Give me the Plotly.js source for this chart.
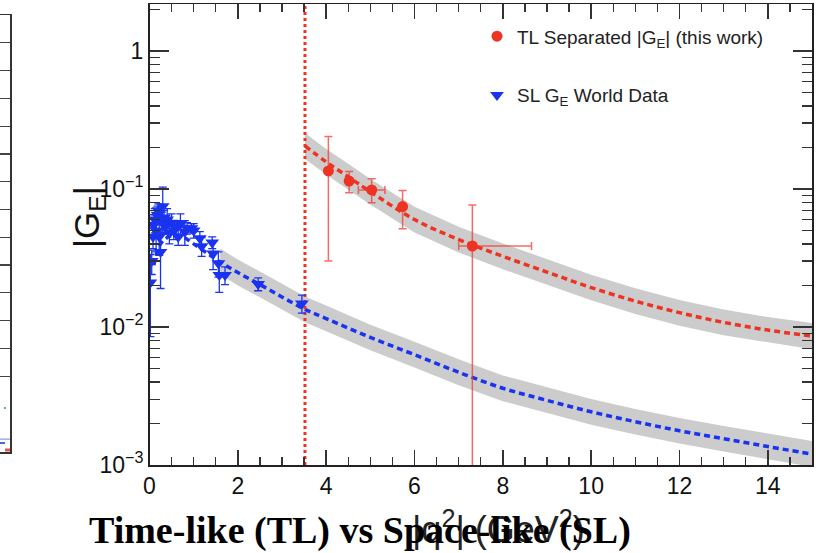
<!DOCTYPE html>
<html><head><meta charset="utf-8">
<script src="https://cdn.plot.ly/plotly-3.0.1.min.js"></script>
<style>html,body{margin:0;padding:0;background:#fff;} #chart{width:826px;height:553px;}</style>
</head><body><div id="chart"></div>
<script>
// ---- Time-like separated |G_E| (this work) ----
const tlQ2 = [4.05, 4.52, 5.03, 5.73, 7.31];
const tlGE = [0.135, 0.114, 0.0984, 0.0745, 0.0386];
const tlErrPlus = [0.105, 0.020, 0.020, 0.023, 0.038];
const tlErrMinus = [0.105, 0.020, 0.019, 0.023, 0.0377];
const tlQ2ErrPlus = [0, 0, 0.30, 0, 1.34];
const tlQ2ErrMinus = [0, 0, 0.30, 0, 0.31];

// ---- Space-like G_E world data ----
const slQ2 = [0.02, 0.05, 0.08, 0.10, 0.12, 0.15, 0.18, 0.20, 0.22, 0.25, 0.28, 0.30, 0.33, 0.36, 0.40, 0.45, 0.50, 0.55, 0.60, 0.65, 0.70, 0.80, 0.85, 0.95, 1.00, 1.14, 1.18, 1.42, 1.44, 1.56, 1.58, 1.71, 2.46, 3.45];
const slGE = [0.021, 0.030, 0.045, 0.055, 0.060, 0.050, 0.065, 0.070, 0.045, 0.035, 0.058, 0.075, 0.062, 0.054, 0.060, 0.048, 0.057, 0.050, 0.053, 0.045, 0.056, 0.049, 0.052, 0.052, 0.050, 0.044, 0.0385, 0.041, 0.034, 0.029, 0.0238, 0.0238, 0.0205, 0.0148];
const slErr = [0.0125, 0.006, 0.008, 0.010, 0.012, 0.015, 0.010, 0.008, 0.012, 0.016, 0.010, 0.028, 0.008, 0.006, 0.012, 0.008, 0.009, 0.007, 0.006, 0.006, 0.010, 0.010, 0.005, 0.004, 0.006, 0.005, 0.006, 0.004, 0.008, 0.006, 0.006, 0.0035, 0.0022, 0.0022];

// ---- fits ----
const tlFitQ2 = [3.52, 4, 4.5, 5, 6, 7, 8, 9, 10, 11, 12, 13, 14, 15];
const tlFit = [0.205, 0.157, 0.1225, 0.0955, 0.0600, 0.0430, 0.0325, 0.0250, 0.0193, 0.0154, 0.0127, 0.0108, 0.0095, 0.0086];
const tlBandHigh = [0.254, 0.195, 0.152, 0.118, 0.0744, 0.0533, 0.0403, 0.0310, 0.0239, 0.0191, 0.0157, 0.0134, 0.0118, 0.0107];
const tlBandLow = [0.165, 0.127, 0.0988, 0.077, 0.0484, 0.0347, 0.0262, 0.0202, 0.0156, 0.0124, 0.0102, 0.0087, 0.0077, 0.0069];

const slFitQ2 = [0.1, 0.25, 0.5, 0.75, 1, 1.5, 2, 2.5, 3, 3.52, 4, 5, 6, 7, 8, 9, 10, 11, 12, 13, 14, 15];
const slFit = [0.028, 0.040, 0.046, 0.045, 0.040, 0.031, 0.0248, 0.0203, 0.0165, 0.0134, 0.0115, 0.0084, 0.0063, 0.0047, 0.0036, 0.00294, 0.00243, 0.00206, 0.00177, 0.00155, 0.00136, 0.0012];
const slBandQ2 = [1.6, 2, 2.5, 3, 3.52, 4, 5, 6, 7, 8, 9, 10, 11, 12, 13, 14, 15];
const slBandHigh = [0.0370, 0.0308, 0.0252, 0.0205, 0.0166, 0.0143, 0.0104, 0.0078, 0.00583, 0.00446, 0.00365, 0.00301, 0.00255, 0.00219, 0.00192, 0.00169, 0.00149];
const slBandLow = [0.0241, 0.0200, 0.0164, 0.0133, 0.0108, 0.0093, 0.00677, 0.00508, 0.00379, 0.0029, 0.00237, 0.00196, 0.00166, 0.00143, 0.00125, 0.0011, 0.00097];

// ---- threshold line (4 m^2) ----
const thresholdQ2 = [3.52, 3.52];
const thresholdGE = [0.001, 2.2];

// ---- axis ticks ----
const yTickVals = [0.001, 0.01, 0.1, 1];
const yTickText = ['10<sup>\u22123</sup>', '10<sup>\u22122</sup>', '10<sup>\u22121</sup>', '1'];
const yMinorVals = [0.002,0.003,0.004,0.005,0.006,0.007,0.008,0.009,0.02,0.03,0.04,0.05,0.06,0.07,0.08,0.09,0.2,0.3,0.4,0.5,0.6,0.7,0.8,0.9,2];

// ---- fragments of the neighbouring panel (cropped at left) ----
const leftTickVals = [0,1,2,3,4,5,6,7,8,9,10,11,12];
const leftGreenX = [4, 6], leftGreenY = [-1.15, -1.15];
const leftLightBlueX = [0, 10], leftLightBlueY = [-2.27, -2.27];
const leftBlueX = [0, 5], leftBlueY = [-2.41, -2.41];
const leftRedX = [5, 10], leftRedY = [-2.66, -2.66];

const RED = '#ee3322', BLUE = '#1a33f0', BAND = '#cccccc';
const FONT = 'Liberation Sans, Arial, Helvetica, sans-serif';
const W = 812; // plot area width (l=0)

const traces = [
  {x: tlFitQ2, y: tlBandLow, mode: 'lines', line: {width: 0}, showlegend: false, hoverinfo: 'skip'},
  {x: tlFitQ2, y: tlBandHigh, mode: 'lines', line: {width: 0}, fill: 'tonexty', fillcolor: BAND, showlegend: false, hoverinfo: 'skip'},
  {x: slBandQ2, y: slBandLow, mode: 'lines', line: {width: 0}, showlegend: false, hoverinfo: 'skip'},
  {x: slBandQ2, y: slBandHigh, mode: 'lines', line: {width: 0}, fill: 'tonexty', fillcolor: BAND, showlegend: false, hoverinfo: 'skip'},
  {x: tlFitQ2, y: tlFit, mode: 'lines', line: {color: RED, width: 3.5, dash: '6px,4px', shape: 'spline'}, showlegend: false},
  {x: slFitQ2, y: slFit, mode: 'lines', line: {color: BLUE, width: 3.5, dash: '6px,4px', shape: 'spline'}, showlegend: false},
  {x: thresholdQ2, y: thresholdGE, mode: 'lines', line: {color: RED, width: 3, dash: '3px,3px'}, showlegend: false},
  {x: tlQ2, y: tlGE, mode: 'markers', name: 'TL Separated |G<sub>E</sub>| (this work)', legendgroup: 'tl',
   marker: {symbol: 'circle', size: 11, color: RED},
   error_y: {type: 'data', symmetric: false, array: tlErrPlus, arrayminus: tlErrMinus, color: 'rgba(238,60,50,0.75)', thickness: 1.5, width: 4},
   error_x: {type: 'data', symmetric: false, array: tlQ2ErrPlus, arrayminus: tlQ2ErrMinus, color: 'rgba(238,60,50,0.75)', thickness: 1.5, width: 4}},
  {x: slQ2, y: slGE, mode: 'markers', name: 'SL G<sub>E</sub> World Data', legendgroup: 'sl',
   marker: {symbol: 'triangle-down', size: 12, color: BLUE},
   error_y: {type: 'data', array: slErr, color: BLUE, thickness: 1.3, width: 4}},
  {x: leftGreenX, y: leftGreenY, xaxis: 'x2', yaxis: 'y2', mode: 'lines', line: {color: '#5fb87a', width: 2}, showlegend: false, hoverinfo: 'skip'},
  {x: leftLightBlueX, y: leftLightBlueY, xaxis: 'x2', yaxis: 'y2', mode: 'lines', line: {color: '#9fb0e8', width: 1.5}, showlegend: false, hoverinfo: 'skip'},
  {x: leftBlueX, y: leftBlueY, xaxis: 'x2', yaxis: 'y2', mode: 'lines', line: {color: '#4466dd', width: 2}, showlegend: false, hoverinfo: 'skip'},
  {x: leftRedX, y: leftRedY, xaxis: 'x2', yaxis: 'y2', mode: 'lines', line: {color: '#dd5555', width: 3}, showlegend: false, hoverinfo: 'skip'}
];

const axisLine = {showline: true, linecolor: '#222', linewidth: 1.5, zeroline: false, showgrid: false};

const layout = {
  width: 826, height: 553,
  margin: {l: 0, r: 14, t: 4, b: 88, pad: 0},
  paper_bgcolor: '#fff', plot_bgcolor: '#fff',
  showlegend: true,
  legend: {x: 477 / W, xanchor: 'left', y: 0.971, yanchor: 'top', bgcolor: 'rgba(0,0,0,0)', borderwidth: 0,
           font: {family: FONT, size: 19, color: '#222'}, tracegroupgap: 31, traceorder: 'grouped'},
  xaxis: Object.assign({}, axisLine, {
    domain: [149.5 / W, 1], range: [0, 15], anchor: 'y',
    tickmode: 'linear', tick0: 0, dtick: 2,
    ticks: 'inside', ticklen: 15, tickwidth: 1.5, tickcolor: '#333', mirror: 'ticks',
    minor: {ticks: 'inside', ticklen: 8, dtick: 0.5, tickwidth: 1.3, tickcolor: '#333'},
    tickfont: {family: FONT, size: 23, color: '#111'}
  }),
  yaxis: Object.assign({}, axisLine, {
    type: 'log', range: [-3, 0.34], anchor: 'x',
    tickmode: 'array', tickvals: yTickVals, ticktext: yTickText,
    ticks: 'inside', ticklen: 19, tickwidth: 1.5, tickcolor: '#333', mirror: 'ticks',
    minor: {tickmode: 'array', tickvals: yMinorVals, ticks: 'inside', ticklen: 10, tickwidth: 1.3, tickcolor: '#333'},
    tickfont: {family: FONT, size: 23, color: '#111'}
  }),
  xaxis2: {domain: [0, 10 / W], range: [0, 10], anchor: 'y2', showline: true, linecolor: '#333', linewidth: 1.5,
           mirror: true, showticklabels: false, ticks: '', showgrid: false, zeroline: false},
  yaxis2: {domain: [0.028, 0.976], range: [-2.736, 13], anchor: 'x2', side: 'right', showline: true, linecolor: '#333',
           linewidth: 1.5, tickmode: 'array', tickvals: leftTickVals, ticks: 'inside', ticklen: 10, tickwidth: 1.2,
           tickcolor: '#444', showticklabels: false, showgrid: false, zeroline: false},
  annotations: [
    {text: '|G<sub>E</sub>|', xref: 'paper', yref: 'paper', x: 89 / W, y: (465 - 217) / 461, xanchor: 'center', yanchor: 'middle',
     textangle: -90, showarrow: false, font: {family: FONT, size: 35, color: '#111'}},
    {text: '|q<sup>2</sup>| (GeV<sup>2</sup>)', xref: 'paper', yref: 'paper', x: 498 / W, y: (465 - 527) / 461, xanchor: 'center', yanchor: 'middle',
     showarrow: false, font: {family: FONT, size: 36, color: '#222'}},
    {text: 'Time-like (TL) vs Space-like (SL)', xref: 'paper', yref: 'paper', x: 360 / W, y: (465 - 530) / 461, xanchor: 'center', yanchor: 'middle',
     showarrow: false, font: {family: 'Liberation Serif, Times New Roman, serif', size: 38, color: '#000', weight: 'bold'}}
  ]
};

Plotly.newPlot('chart', traces, layout, {displayModeBar: false, staticPlot: true});
</script></body></html>
